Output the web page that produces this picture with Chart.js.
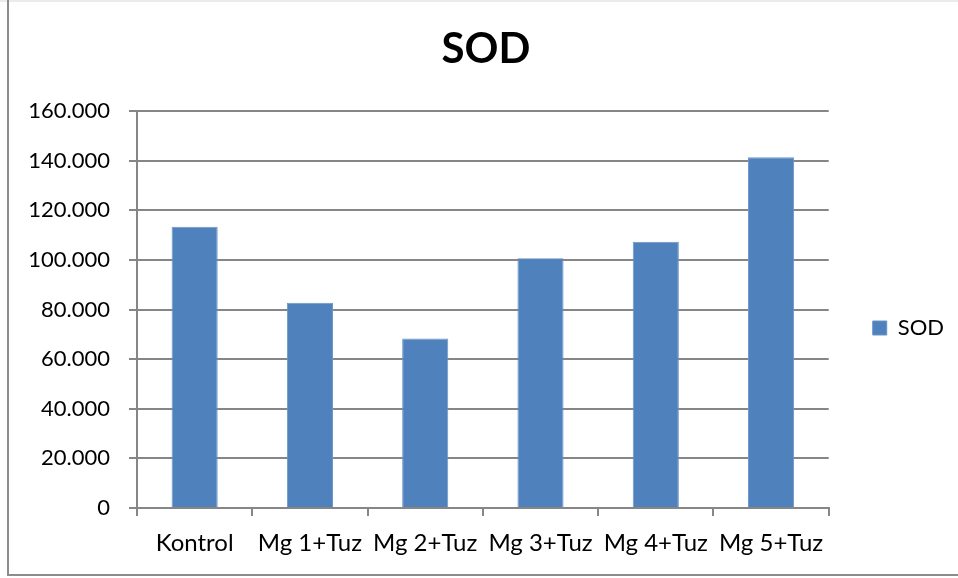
<!DOCTYPE html>
<html>
<head>
<meta charset="utf-8">
<title>SOD</title>
<script src="https://cdn.jsdelivr.net/npm/chart.js@4.4.1/dist/chart.umd.min.js"></script>
<style>
  html, body { margin: 0; padding: 0; background: #ffffff; }
  #wrap { width: 958px; height: 578px; position: relative; }
  canvas { display: block; }
</style>
</head>
<body>
<div id="wrap"><canvas id="chart" width="958" height="578"></canvas></div>
<script>
// Data
const categories = ['Kontrol', 'Mg 1+Tuz', 'Mg 2+Tuz', 'Mg 3+Tuz', 'Mg 4+Tuz', 'Mg 5+Tuz'];
const sodValues = [113.3, 82.7, 68.3, 100.7, 107.3, 141.4];
const yTickLabels = ['0', '20.000', '40.000', '60.000', '80.000', '100.000', '120.000', '140.000', '160.000'];
const seriesName = 'SOD';
const chartTitle = 'SOD';

const FONT = 'Lato, "Open Sans", "DejaVu Sans", sans-serif';
const AXIS_GREY = '#868686';

// White page with the frame lines on the left, top and bottom
const framePlugin = {
  id: 'frame',
  beforeDraw(chart) {
    const ctx = chart.ctx;
    ctx.save();
    ctx.fillStyle = '#ffffff';
    ctx.fillRect(0, 0, chart.width, chart.height);
    ctx.strokeStyle = '#ebebeb';
    ctx.lineWidth = 2;
    ctx.beginPath();
    ctx.moveTo(0, 1);
    ctx.lineTo(chart.width, 1);
    ctx.stroke();
    ctx.strokeStyle = '#8c8c8c';
    ctx.lineWidth = 2;
    ctx.beginPath();
    ctx.moveTo(8, 0);
    ctx.lineTo(8, 575);
    ctx.lineTo(chart.width, 575);
    ctx.stroke();
    ctx.restore();
  }
};

// Title centred over the whole frame, legend centred beside plot + category labels
const placementPlugin = {
  id: 'placement',
  afterLayout(chart) {
    const t = chart.titleBlock;
    if (t) {
      const dx = 486 - (t.left + t.right) / 2;
      t.left += dx;
      t.right += dx;
    }
    const lg = chart.legend;
    if (lg) {
      const dy = 328 - (lg.top + lg.bottom) / 2;
      lg.top += dy;
      lg.bottom += dy;
    }
  }
};

new Chart(document.getElementById('chart'), {
  type: 'bar',
  data: {
    labels: categories,
    datasets: [{
      label: seriesName,
      data: sodValues,
      backgroundColor: '#4F81BD',
      borderColor: '#6b95c8',
      borderWidth: 1,
      barPercentage: 0.4,
      categoryPercentage: 1.0
    }]
  },
  options: {
    responsive: false,
    devicePixelRatio: 1,
    animation: false,
    layout: { padding: { left: 0, right: 4, top: 0, bottom: 0 } },
    plugins: {
      title: {
        display: true,
        text: chartTitle,
        color: '#000000',
        font: { family: FONT, size: 42, weight: 'bold', lineHeight: 1.2 },
        padding: { top: 24, bottom: 36.6 }
      },
      legend: {
        display: true,
        position: 'right',
        align: 'center',
        labels: {
          boxWidth: 14,
          boxHeight: 14,
          padding: 44,
          color: '#000000',
          font: { family: FONT, size: 22 }
        }
      },
      tooltip: { enabled: false }
    },
    scales: {
      x: {
        grid: {
          display: true,
          drawOnChartArea: false,
          drawTicks: true,
          tickLength: 8,
          color: AXIS_GREY,
          lineWidth: 2
        },
        border: { display: true, color: AXIS_GREY, width: 2 },
        ticks: {
          color: '#000000',
          padding: 13,
          maxRotation: 0,
          autoSkip: false,
          font: { family: FONT, size: 24 }
        },
        afterFit(scale) { scale.height = 70; }
      },
      y: {
        min: 0,
        max: 160,
        grid: {
          color: AXIS_GREY,
          lineWidth: 2,
          drawTicks: true,
          tickLength: 8
        },
        border: { display: true, color: AXIS_GREY, width: 2 },
        ticks: {
          stepSize: 20,
          color: '#000000',
          padding: 19,
          font: { family: FONT, size: 22 },
          callback(value) {
            const i = Math.round(value / 20);
            return yTickLabels[i];
          }
        },
        afterFit(scale) { scale.width = 137; }
      }
    }
  },
  plugins: [framePlugin, placementPlugin]
});
</script>
</body>
</html>
